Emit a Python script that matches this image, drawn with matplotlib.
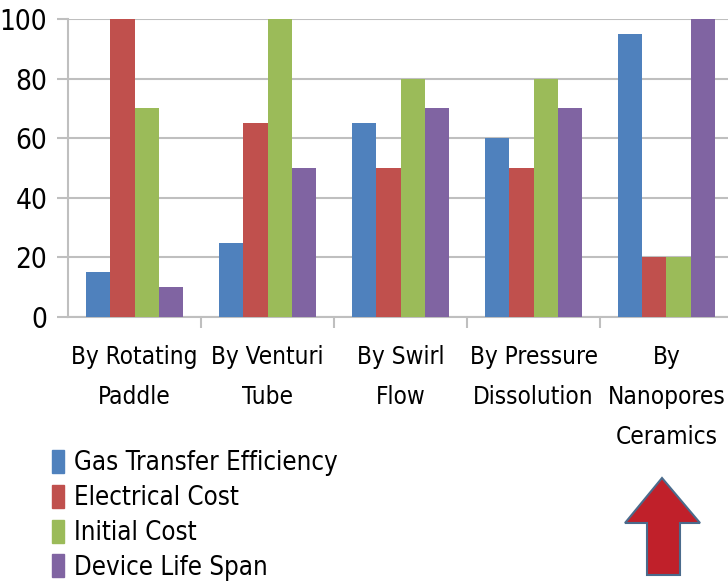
import matplotlib.pyplot as plt
from matplotlib.patches import Polygon, Patch
import numpy as np

categories = ["By Rotating\nPaddle", "By Venturi\nTube", "By Swirl\nFlow",
              "By Pressure\nDissolution", "By\nNanopores\nCeramics"]
series = ["Gas Transfer Efficiency", "Electrical Cost", "Initial Cost", "Device Life Span"]
gas_transfer = [15, 25, 65, 60, 95]
electrical_cost = [100, 65, 50, 50, 20]
initial_cost = [70, 100, 80, 80, 20]
life_span = [10, 50, 70, 70, 100]
yticks = [0, 20, 40, 60, 80, 100]

colors = ["#4F81BD", "#C0504D", "#9BBB59", "#8064A2"]

fig = plt.figure(figsize=(7.28, 5.85), dpi=100)
ax = fig.add_axes([68 / 728, 1 - 317 / 585, 665 / 728, 298 / 585])

x = np.arange(len(categories))
w = 0.184
for i, vals in enumerate([gas_transfer, electrical_cost, initial_cost, life_span]):
    ax.bar(x + (i - 1.5) * w, vals, w, color=colors[i], label=series[i], zorder=3)

ax.set_xlim(-0.5, len(categories) - 0.5)
ax.set_ylim(0, 100)
ax.set_yticks(yticks)
ax.set_yticklabels([str(t) for t in yticks], family="DejaVu Sans", stretch="condensed", fontsize=20)
ax.yaxis.grid(True, color="#BFBFBF", lw=1.5, zorder=0)
ax.tick_params(axis="y", length=8, width=1.5, color="#BFBFBF", pad=7)

ax.set_xticks(x)
ax.set_xticklabels(categories, family="DejaVu Sans", stretch="condensed", fontsize=17.5,
                   linespacing=1.85, va="top")
ax.tick_params(axis="x", which="major", length=0, pad=20)
ax.set_xticks(x[:-1] + 0.5, minor=True)
ax.tick_params(axis="x", which="minor", length=8, width=1.5, color="#BFBFBF")

for s in ["top", "right"]:
    ax.spines[s].set_visible(False)
for s in ["left", "bottom"]:
    ax.spines[s].set_color("#BFBFBF")
    ax.spines[s].set_linewidth(1.5)

handles = [Patch(color=c) for c in colors]
fig.legend(handles, series, loc="upper left", bbox_to_anchor=(52 / 728, 1 - 450 / 585),
           frameon=False, prop={"family": "DejaVu Sans", "stretch": "condensed", "size": 18.5},
           handlelength=0.45, handleheight=1.0, handletextpad=0.4, labelspacing=0.33,
           borderaxespad=0, borderpad=0)

# big red arrow pointing at the nanopores group
arrow_pts = [(662, 478), (700, 523), (680, 523), (680, 575),
             (647, 575), (647, 523), (625, 523)]
arrow = Polygon([(px / 728, 1 - py / 585) for px, py in arrow_pts], closed=True,
                transform=fig.transFigure, facecolor="#C0202A", edgecolor="#4A6B8C", lw=1.5)
fig.patches.append(arrow)

fig.savefig("out.png", dpi=100)
